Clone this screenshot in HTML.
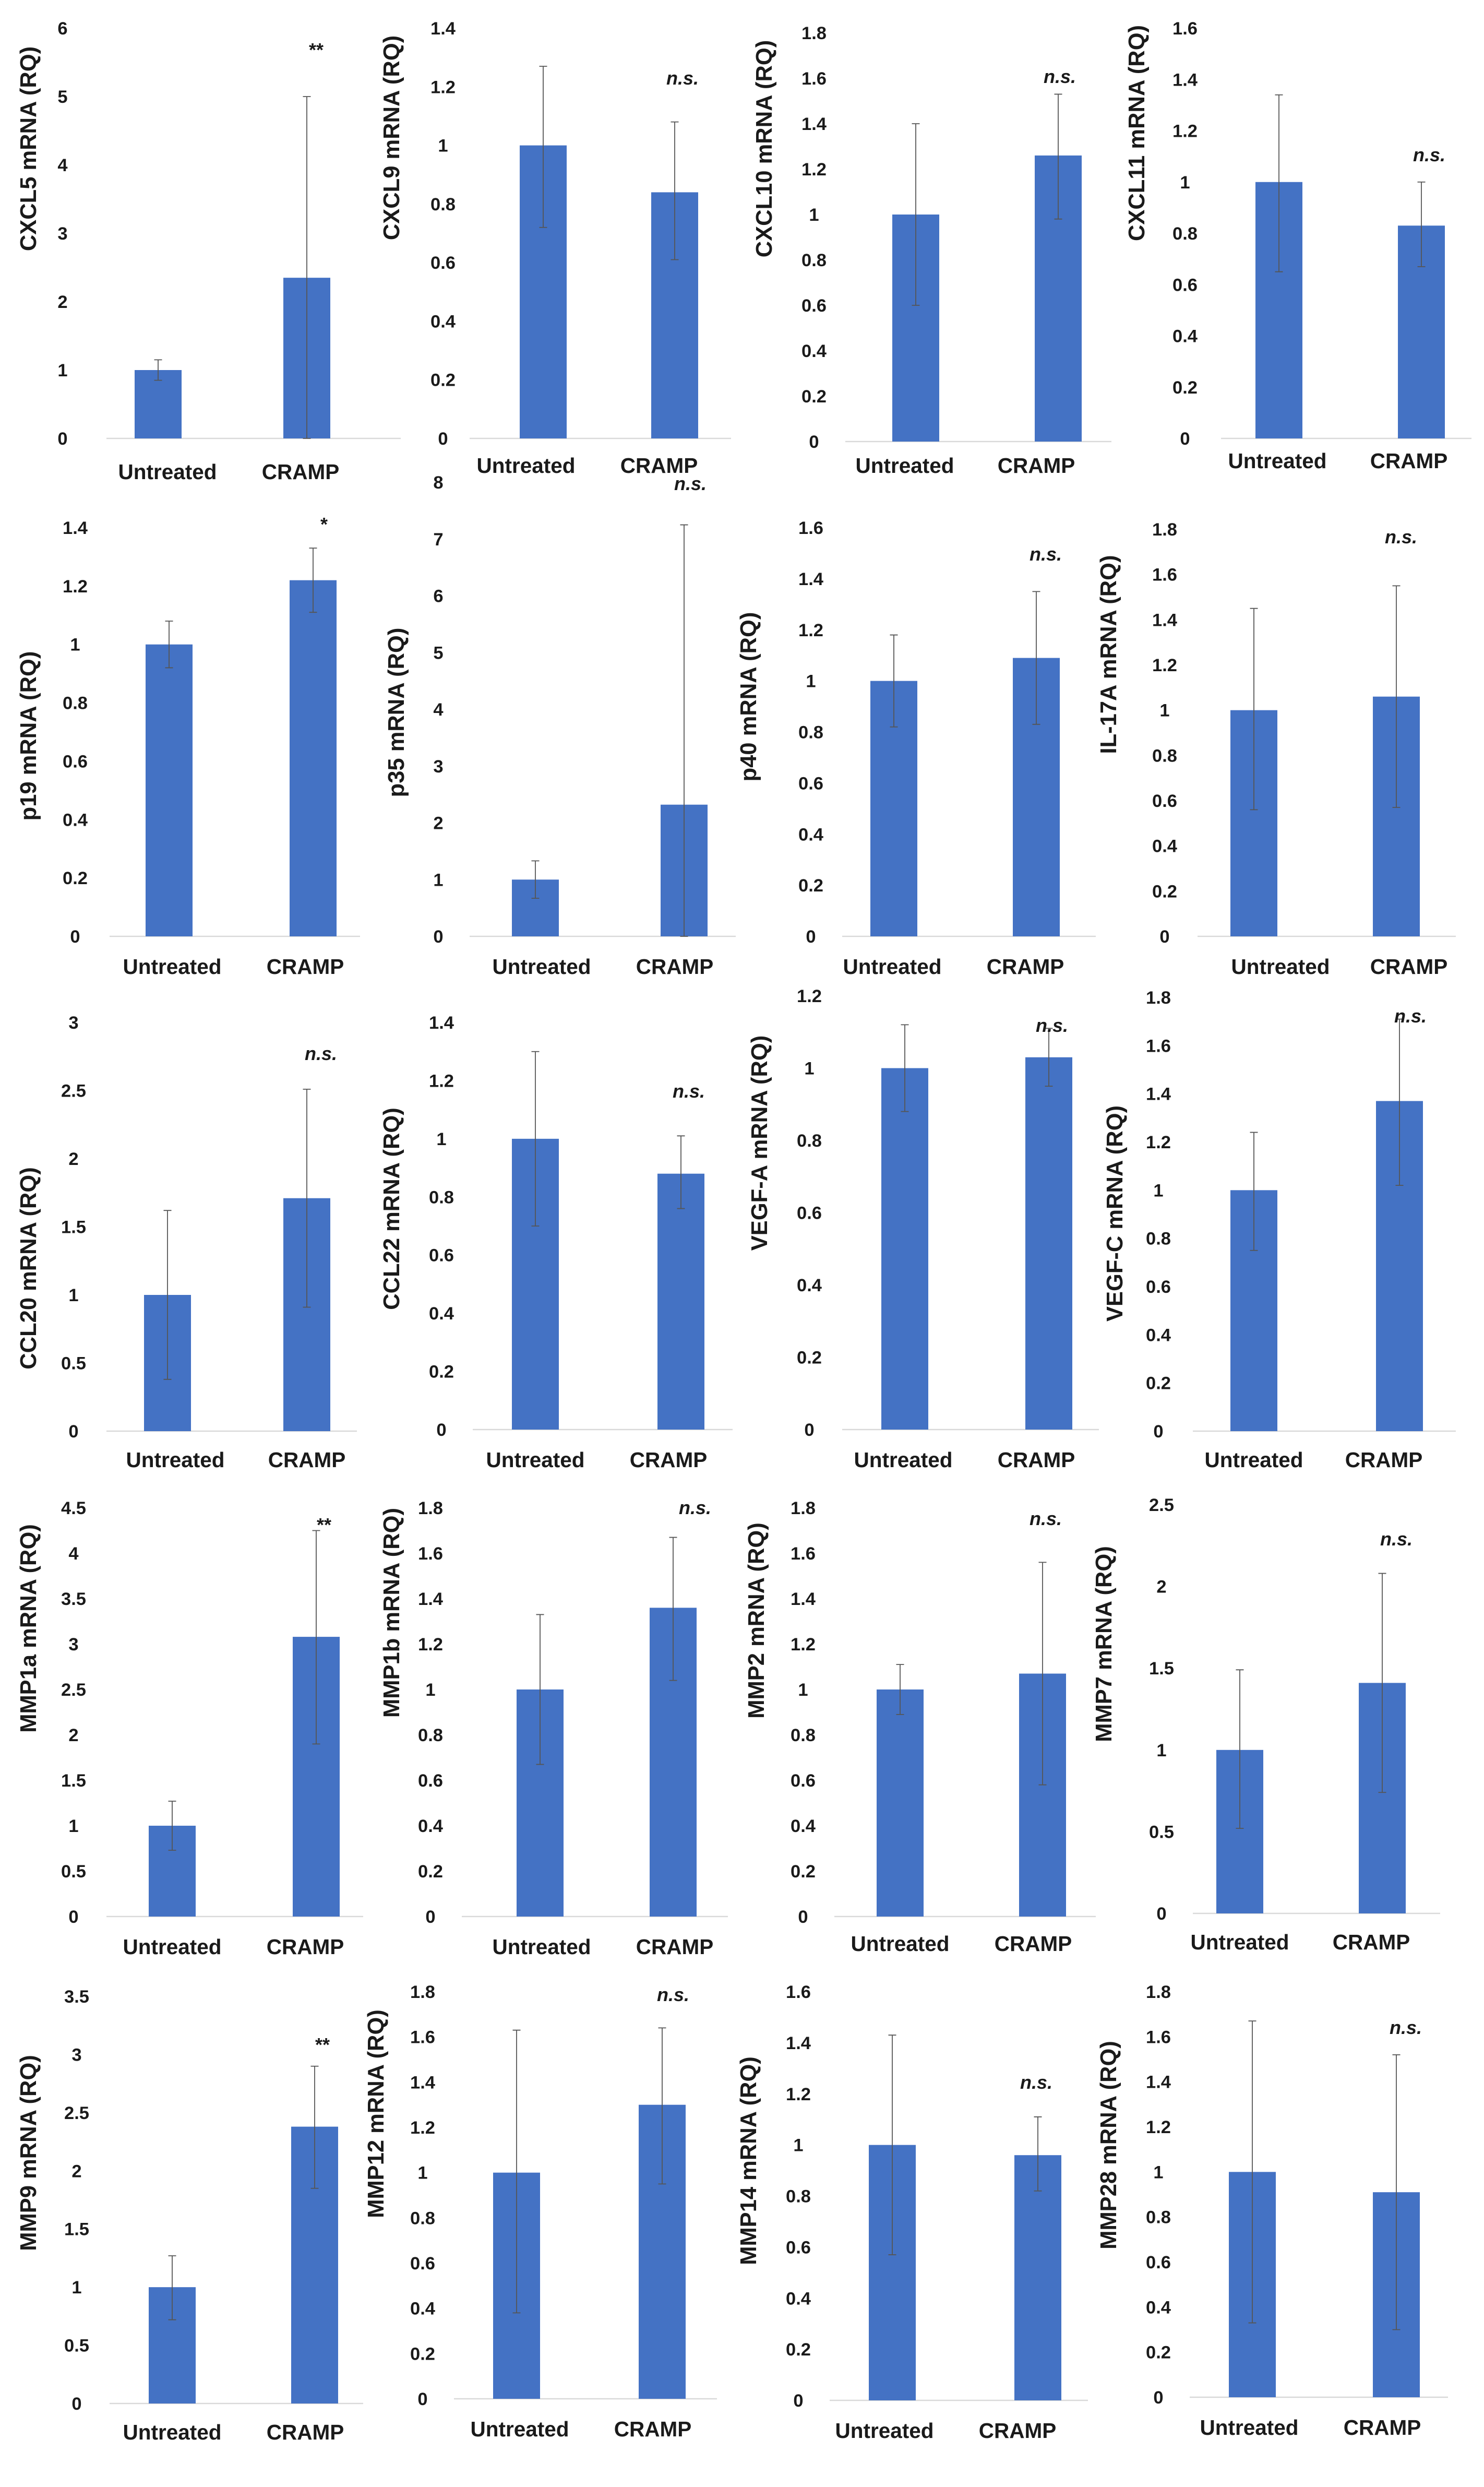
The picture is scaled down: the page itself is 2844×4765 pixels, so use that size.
<!DOCTYPE html>
<html><head><meta charset="utf-8">
<style>
html,body{margin:0;padding:0;background:#fff;}
svg{display:block;}
text{font-family:"Liberation Sans",Arial,sans-serif;font-weight:bold;fill:#1a1a1a;}
</style></head>
<body>
<svg id="fig" width="2844" height="4765" viewBox="0 0 948 1588.33" xmlns="http://www.w3.org/2000/svg"></svg>
<script>
// ---- data ----
const genes = ["CXCL5","CXCL9","CXCL10","CXCL11","p19","p35","p40","IL-17A","CCL20","CCL22","VEGF-A","VEGF-C","MMP1a","MMP1b","MMP2","MMP7","MMP9","MMP12","MMP14","MMP28"];
const categories = ["Untreated","CRAMP"];
const axisMax = [6,1.4,1.8,1.6,1.4,8,1.6,1.8,3,1.4,1.2,1.8,4.5,1.8,1.8,2.5,3.5,1.8,1.6,1.8];
const axisStep = [1,0.2,0.2,0.2,0.2,1,0.2,0.2,0.5,0.2,0.2,0.2,0.5,0.2,0.2,0.5,0.5,0.2,0.2,0.2];
const untreatedMean = [1,1,1,1,1,1,1,1,1,1,1,1,1,1,1,1,1,1,1,1];
const untreatedHi = [1.15,1.27,1.4,1.34,1.08,1.33,1.18,1.45,1.62,1.3,1.12,1.24,1.27,1.33,1.11,1.49,1.27,1.63,1.43,1.67];
const untreatedLo = [0.85,0.72,0.6,0.65,0.92,0.67,0.82,0.56,0.38,0.7,0.88,0.75,0.73,0.67,0.89,0.52,0.72,0.38,0.57,0.33];
const crampMean = [2.35,0.84,1.26,0.83,1.22,2.32,1.09,1.06,1.71,0.88,1.03,1.37,3.08,1.36,1.07,1.41,2.38,1.3,0.96,0.91];
const crampHi = [5.0,1.08,1.53,1.0,1.33,7.25,1.35,1.55,2.51,1.01,1.11,1.71,4.25,1.67,1.56,2.08,2.9,1.64,1.11,1.52];
const crampLo = [0,0.61,0.98,0.67,1.11,0,0.83,0.57,0.91,0.76,0.95,1.02,1.9,1.04,0.58,0.74,1.85,0.95,0.82,0.3];
const significance = ["**","n.s.","n.s.","n.s.","*","n.s.","n.s.","n.s.","n.s.","n.s.","n.s.","n.s.","**","n.s.","n.s.","n.s.","**","n.s.","n.s.","n.s."];

// ---- layout (small-scale units, 1/3 of pixels) ----
const L = [
 {top:18,base:280,tx:40,ttl:18,tcy:95,b1:101,b2:196,ax0:68,ax1:256,ly:301,l1:107,l2:192,sx:202,sy:32},
 {top:18,base:280,tx:283,ttl:250,tcy:88,b1:347,b2:431,ax0:300,ax1:467,ly:297,l1:336,l2:421,sx:436,sy:50},
 {top:21,base:282,tx:520,ttl:488,tcy:95,b1:585,b2:676,ax0:540,ax1:710,ly:297,l1:578,l2:662,sx:677,sy:49},
 {top:18,base:280,tx:757,ttl:726,tcy:85,b1:817,b2:908,ax0:780,ax1:940,ly:294,l1:816,l2:900,sx:913,sy:99},
 {top:337,base:598,tx:48,ttl:18,tcy:470,b1:108,b2:200,ax0:70,ax1:230,ly:617,l1:110,l2:195,sx:207,sy:335},
 {top:308,base:598,tx:280,ttl:253,tcy:455,b1:342,b2:437,ax0:300,ax1:470,ly:617,l1:346,l2:431,sx:441,sy:309},
 {top:337,base:598,tx:518,ttl:478,tcy:445,b1:571,b2:662,ax0:538,ax1:700,ly:617,l1:570,l2:655,sx:668,sy:354},
 {top:338,base:598,tx:744,ttl:708,tcy:418,b1:801,b2:892,ax0:765,ax1:930,ly:617,l1:818,l2:900,sx:895,sy:343},
 {top:653,base:914,tx:47,ttl:18,tcy:810,b1:107,b2:196,ax0:68,ax1:228,ly:932,l1:112,l2:196,sx:205,sy:673},
 {top:653,base:913,tx:282,ttl:250,tcy:772,b1:342,b2:435,ax0:302,ax1:468,ly:932,l1:342,l2:427,sx:440,sy:697},
 {top:636,base:913,tx:517,ttl:485,tcy:730,b1:578,b2:670,ax0:538,ax1:702,ly:932,l1:577,l2:662,sx:672,sy:655},
 {top:637,base:914,tx:740,ttl:712,tcy:775,b1:801,b2:894,ax0:762,ax1:930,ly:932,l1:801,l2:884,sx:901,sy:649},
 {top:963,base:1224,tx:47,ttl:18,tcy:1040,b1:110,b2:202,ax0:68,ax1:232,ly:1243,l1:110,l2:195,sx:207,sy:974},
 {top:963,base:1224,tx:275,ttl:250,tcy:1030,b1:345,b2:430,ax0:295,ax1:465,ly:1243,l1:346,l2:431,sx:444,sy:963},
 {top:963,base:1224,tx:513,ttl:483,tcy:1035,b1:575,b2:666,ax0:533,ax1:700,ly:1241,l1:575,l2:660,sx:668,sy:970},
 {top:961,base:1222,tx:742,ttl:705,tcy:1050,b1:792,b2:883,ax0:762,ax1:920,ly:1240,l1:792,l2:876,sx:892,sy:983},
 {top:1275,base:1535,tx:49,ttl:18,tcy:1375,b1:110,b2:201,ax0:70,ax1:232,ly:1553,l1:110,l2:195,sx:206,sy:1306},
 {top:1272,base:1532,tx:270,ttl:240,tcy:1350,b1:330,b2:423,ax0:290,ax1:458,ly:1551,l1:332,l2:417,sx:430,sy:1274},
 {top:1272,base:1533,tx:510,ttl:478,tcy:1380,b1:570,b2:663,ax0:530,ax1:695,ly:1552,l1:565,l2:650,sx:662,sy:1330},
 {top:1272,base:1531,tx:740,ttl:708,tcy:1370,b1:800,b2:892,ax0:760,ax1:925,ly:1550,l1:798,l2:883,sx:898,sy:1295}
];

const NS="http://www.w3.org/2000/svg";
const svg=document.getElementById('fig');
function mk(tag,attrs,parent){const e=document.createElementNS(NS,tag);for(const k in attrs)e.setAttribute(k,attrs[k]);(parent||svg).appendChild(e);return e;}

genes.forEach((g,i)=>{
  const p=L[i];
  const grp=mk('g',{});
  
  
  const y=v=>p.base-(v/axisMax[i])*(p.base-p.top);
  const ax=mk('line',{x1:p.ax0,x2:p.ax1,y1:p.base,y2:p.base,stroke:'#d9d9d9','stroke-width':0.8},grp);
  
  
  const n=Math.round(axisMax[i]/axisStep[i]);
  for(let k=0;k<=n;k++){
    const v=k*axisStep[i];
    const t=mk('text',{x:p.tx,y:y(v)+4,'text-anchor':'middle','font-size':11.5},grp);
    t.textContent=String(parseFloat(v.toFixed(2)));
    
    
  }
  const tt=mk('text',{x:0,y:0,'text-anchor':'middle','font-size':14.5,transform:`translate(${p.ttl+5},${p.tcy}) rotate(-90)`},grp);
  tt.textContent=g+' mRNA (RQ)';
  
  
  const means=[untreatedMean[i],crampMean[i]], his=[untreatedHi[i],crampHi[i]], los=[untreatedLo[i],crampLo[i]];
  [p.b1,p.b2].forEach((cx,j)=>{
    const r=mk('rect',{x:cx-15,y:y(means[j]),width:30,height:p.base-y(means[j]),fill:'#4472C4'},grp);
    
    
    const e=mk('path',{d:`M${cx},${y(his[j])}V${y(los[j])}M${cx-2.5},${y(his[j])}H${cx+2.5}M${cx-2.5},${y(los[j])}H${cx+2.5}`,stroke:'#555','stroke-width':0.6,fill:'none'},grp);
    
    
  });
  [p.l1,p.l2].forEach((lx,j)=>{
    const t=mk('text',{x:lx,y:p.ly+5,'text-anchor':'middle','font-size':13.5},grp);
    t.textContent=categories[j];
    
    
  });
  const s=mk('text',{x:p.sx,y:p.sy+4,'text-anchor':'middle','font-size':12,'font-style':significance[i]==='n.s.'?'italic':'normal'},grp);
  s.textContent=significance[i];
  
  
});
</script>
</body></html>
